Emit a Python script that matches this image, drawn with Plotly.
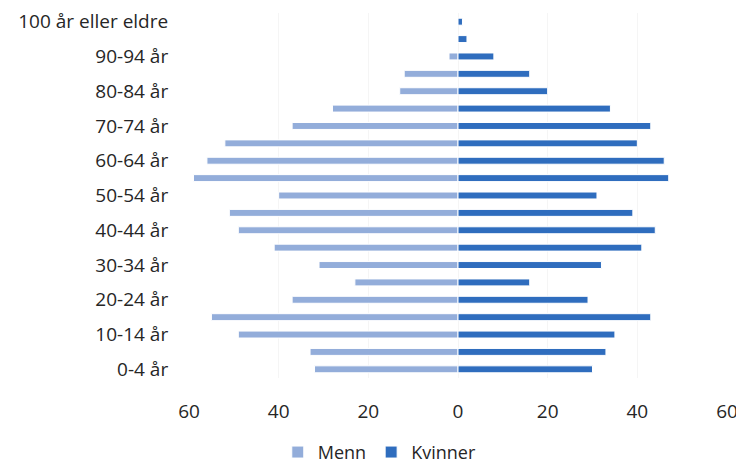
import plotly.graph_objects as go

age_groups = ["0-4 år", "5-9 år", "10-14 år", "15-19 år", "20-24 år", "25-29 år",
              "30-34 år", "35-39 år", "40-44 år", "45-49 år", "50-54 år", "55-59 år",
              "60-64 år", "65-69 år", "70-74 år", "75-79 år", "80-84 år", "85-89 år",
              "90-94 år", "95-99 år", "100 år eller eldre"]
menn = [32, 33, 49, 55, 37, 23, 31, 41, 49, 51, 40, 59, 56, 52, 37, 28, 13, 12, 2, 0, 0]
kvinner = [30, 33, 35, 43, 29, 16, 32, 41, 44, 39, 31, 47, 46, 40, 43, 34, 20, 16, 8, 2, 1]
x_ticks = [-60, -40, -20, 0, 20, 40, 60]
x_tick_labels = ["60", "40", "20", "0", "20", "40", "60"]
y_labels_shown = age_groups[::2]

fig = go.Figure()
fig.add_trace(go.Bar(
    y=age_groups, x=[-v for v in menn], orientation="h", name="Menn",
    marker=dict(color="#93ADDA", line=dict(color="white", width=1)),
))
fig.add_trace(go.Bar(
    y=age_groups, x=kvinner, orientation="h", name="Kvinner",
    marker=dict(color="#2F6DBE", line=dict(color="white", width=1)),
))

font_family = "Open Sans, Noto Sans, Liberation Sans, sans-serif"
fig.update_layout(
    width=736, height=460,
    barmode="relative", bargap=0.6,
    plot_bgcolor="white", paper_bgcolor="white",
    margin=dict(l=181, r=17, t=5, b=90, autoexpand=False),
    font=dict(family=font_family, size=19, color="#262626"),
    showlegend=True,
    legend=dict(orientation="h", x=0.165, xanchor="left",
                yref="container", y=0.034, yanchor="middle",
                font=dict(size=18, color="#262626"), itemwidth=30, traceorder="normal"),
)
fig.update_xaxes(
    range=[-60, 60], tickvals=x_ticks, ticktext=x_tick_labels,
    showgrid=True, gridcolor="#F5F5F5", gridwidth=1, zeroline=False,
    ticks="outside", ticklen=16, tickcolor="rgba(0,0,0,0)", showline=False,
    tickfont=dict(size=19, color="#262626"), automargin=False,
)
fig.update_yaxes(
    categoryorder="array", categoryarray=age_groups,
    range=[-0.5, 20.5],
    tickvals=y_labels_shown, ticktext=y_labels_shown,
    showgrid=False, zeroline=False, showline=False,
    ticks="outside", ticklen=16, tickcolor="rgba(0,0,0,0)",
    tickfont=dict(size=19, color="#262626"), automargin=False,
)

fig.write_html("out.html")
